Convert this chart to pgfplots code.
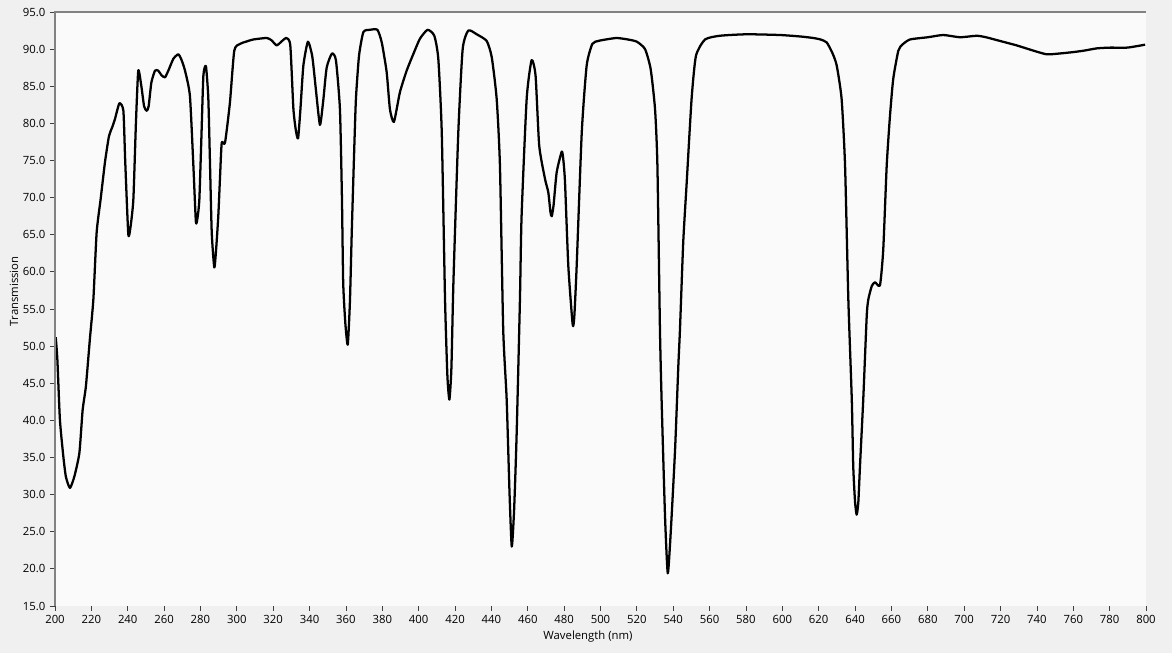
\documentclass[border=0pt]{standalone}
\usepackage{pgfplots}
\pgfplotsset{compat=1.18}
\usepackage{fontspec}
\setmainfont{Open Sans}
\definecolor{outerbg}{RGB}{240,240,240}
\definecolor{plotbg}{RGB}{250,250,250}
\definecolor{frame}{RGB}{130,130,130}
\begin{document}
\begin{tikzpicture}
\fill[outerbg] (0,0) rectangle (879pt,489.75pt);
\useasboundingbox (0,0) rectangle (879pt,489.75pt);
\begin{axis}[
  at={(41.25pt,35.25pt)}, anchor=south west,
  scale only axis, width=818.25pt, height=445.5pt,
  xmin=200, xmax=800, ymin=15, ymax=95,
  xtick={200,220,...,800}, ytick={15,20,...,95},
  axis background/.style={fill=plotbg},
  axis line style={draw=none},
  xtick pos=bottom, ytick pos=left, tick align=outside,
  major tick length=3.75pt,
  tick style={draw=black!75, line width=0.6pt},
  font=\fontsize{8.5}{10}\selectfont,
  /pgf/number format/assume math mode=true,
  yticklabel style={/pgf/number format/.cd, fixed, fixed zerofill, precision=1},
  xticklabel style={/pgf/number format/.cd, fixed, precision=0, 1000 sep={}},
  xlabel={Wavelength (nm)}, ylabel={Transmission},
  xlabel style={at={(axis description cs:0.4885,0)}, anchor=center, yshift=-23.25pt},
  ylabel style={at={(axis description cs:0,0.53)}, anchor=center, yshift=30.75pt},
  extra description/.code={\draw[frame, line width=0.8pt] (rel axis cs:0,0) -- (rel axis cs:0,1) -- (rel axis cs:1,1);},
  clip=true,
]
\addplot[black, line width=1.7pt, line join=round, smooth, tension=0.35] coordinates {
(200.4,51.2) (201.3,48.2) (202.7,40.1) (204.6,35.1) (206.0,32.4) (208.2,30.9)
(210.6,32.4) (213.4,35.6) (215.2,41.4) (217.0,44.6) (219.2,51.0) (221.1,56.3)
(222.9,65.3) (225.1,69.8) (227.5,74.8) (229.7,78.3) (231.5,79.5) (233.0,80.6)
(235.4,82.7) (237.6,81.7) (238.6,75.0) (240.3,65.1) (241.5,66.0) (243.1,69.8)
(244.5,80.0) (245.8,87.1) (247.5,85.0) (249.0,82.3) (250.4,81.7) (251.5,82.3)
(253.0,85.5) (255.0,87.1) (256.8,87.1) (258.5,86.5) (260.5,86.2) (262.5,87.2)
(265.1,88.7) (267.8,89.3) (269.5,88.6) (271.5,87.1) (274.2,83.7) (276.1,74.3)
(277.5,66.7) (278.5,67.5) (279.4,69.8) (280.5,78.0) (281.6,86.4) (283.0,87.7)
(284.3,83.5) (285.2,75.0) (286.2,65.3) (287.6,60.6) (288.6,63.0) (289.8,67.5)
(290.8,73.0) (291.7,77.4) (293.5,77.4) (296.2,82.8) (298.6,89.8) (301.7,90.7)
(305.0,91.0) (309.1,91.3) (316.4,91.5) (319.0,91.2) (321.9,90.5) (324.0,90.9)
(327.2,91.5) (329.4,90.5) (331.1,82.0) (332.5,79.0) (333.7,78.0) (335.0,82.0)
(336.6,87.8) (339.1,91.0) (341.5,89.0) (343.5,84.5) (345.7,79.8) (347.5,83.0)
(349.4,87.5) (352.3,89.4) (354.5,88.5) (356.7,81.9) (357.8,70.0) (358.5,58.5)
(359.7,53.0) (361.0,50.2) (362.2,56.0) (363.2,65.3) (364.5,76.0) (365.5,83.3)
(367.2,89.1) (369.6,92.3) (373.2,92.6) (377.3,92.6) (379.7,90.9) (382.4,86.9)
(384.2,81.9) (386.4,80.2) (389.7,84.2) (393.4,87.1) (397.0,89.3) (400.7,91.4)
(404.9,92.6) (408.6,91.8) (410.8,88.7) (412.7,78.8) (414.5,56.3) (415.8,46.0)
(416.9,42.8) (418.0,47.0) (419.1,58.5) (421.8,78.8) (424.2,90.0) (427.3,92.5)
(431.9,92.0) (437.4,91.1) (440.2,88.9) (442.9,83.3) (444.7,74.3) (446.5,52.2)
(448.4,42.8) (450.0,30.0) (451.2,23.0) (452.5,28.0) (453.9,38.3) (455.7,56.3)
(456.6,67.5) (459.4,83.3) (462.1,88.5) (464.3,86.4) (466.3,77.0) (469.5,72.5)
(471.3,70.7) (472.5,68.0) (473.2,67.5) (474.2,69.0) (475.9,73.4) (478.7,76.2)
(479.6,75.0) (480.5,72.0) (482.3,60.8) (484.7,52.9) (485.6,54.0) (486.9,60.8)
(489.7,78.8) (492.4,87.8) (495.5,90.7) (498.8,91.1) (503.0,91.3) (508.9,91.5)
(515.0,91.3) (520.0,91.0) (524.5,90.0) (527.6,87.3) (530.0,81.9) (531.3,74.3)
(532.7,52.2) (533.6,42.8) (535.5,27.0) (537.0,19.4) (538.6,24.8) (541.0,36.0)
(542.8,47.3) (543.7,52.2) (545.5,64.0) (547.4,72.0) (550.1,83.3) (552.5,89.1)
(557.5,91.3) (565.7,91.8) (580.4,92.0) (598.7,91.9) (610.0,91.7) (617.0,91.5)
(621.0,91.3) (624.4,90.9) (627.5,89.5) (629.9,87.8) (632.6,83.3) (634.5,74.3)
(636.3,56.3) (638.2,42.8) (639.0,33.8) (640.0,29.0) (640.9,27.3) (641.8,29.0)
(642.7,33.8) (644.5,42.8) (646.4,54.0) (647.3,56.3) (649.2,58.1) (651.0,58.6)
(653.7,58.2) (655.5,63.0) (657.4,74.3) (659.2,81.0) (661.0,86.0) (663.8,89.8)
(666.0,90.6) (670.2,91.3) (680.0,91.6) (688.5,91.9) (697.7,91.6) (706.9,91.8)
(712.0,91.6) (719.7,91.1) (728.9,90.5) (738.0,89.8) (745.4,89.3) (752.0,89.4)
(760.0,89.6) (766.0,89.8) (772.9,90.1) (780.0,90.2) (789.4,90.2) (795.0,90.4)
(799.5,90.6)
};
\end{axis}
\end{tikzpicture}
\end{document}
